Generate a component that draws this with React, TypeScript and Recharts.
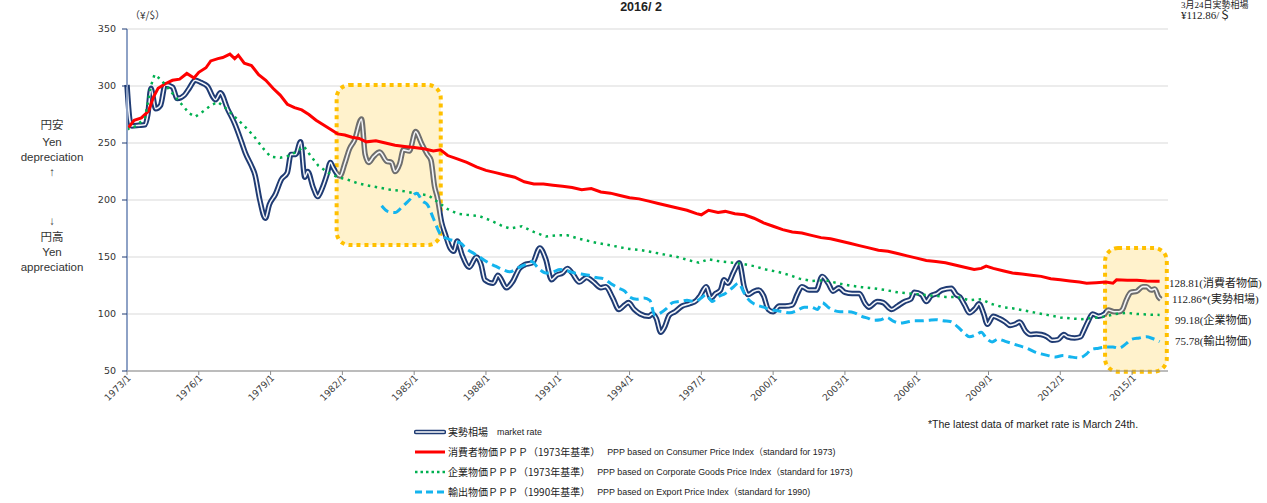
import React from "react";
import { LineChart, Line, XAxis, YAxis, CartesianGrid, ReferenceArea } from "recharts";

// x ticks (years, shown as "YYYY/1") and y ticks (yen per dollar)
const yearTicks = [1973, 1976, 1979, 1982, 1985, 1988, 1991, 1994, 1997, 2000, 2003, 2006, 2009, 2012, 2015];
const yenTicks = [50, 100, 150, 200, 250, 300, 350];

// 実勢相場 market rate
const marketT = [
  1973.0, 1973.12, 1973.2, 1973.5, 1973.75, 1973.87, 1974.0, 1974.2, 1974.4, 1974.6, 1974.9,
  1975.1, 1975.4, 1975.6, 1975.85, 1976.1, 1976.35, 1976.7, 1976.9, 1977.2, 1977.5, 1977.8,
  1977.95, 1978.2, 1978.35, 1978.55, 1978.78, 1978.95, 1979.2, 1979.45, 1979.7, 1979.85,
  1980.05, 1980.25, 1980.43, 1980.55, 1980.78, 1980.97, 1981.15, 1981.35, 1981.5, 1981.6,
  1981.9, 1982.1, 1982.3, 1982.5, 1982.8, 1982.95, 1983.1, 1983.3, 1983.56, 1983.85, 1984.05,
  1984.2, 1984.4, 1984.55, 1984.8, 1985.06, 1985.3, 1985.55, 1985.7, 1985.85, 1985.97, 1986.15,
  1986.3, 1986.5, 1986.65, 1986.8, 1987.0, 1987.3, 1987.6, 1987.8, 1987.95, 1988.3, 1988.5,
  1988.86, 1989.1, 1989.4, 1989.6, 1989.95, 1990.25, 1990.5, 1990.74, 1990.95, 1991.2, 1991.4,
  1991.6, 1991.9, 1992.2, 1992.5, 1992.8, 1993.0, 1993.3, 1993.55, 1993.8, 1993.95, 1994.2,
  1994.45, 1994.8, 1994.95, 1995.12, 1995.3, 1995.45, 1995.66, 1995.9, 1996.2, 1996.5, 1996.8,
  1996.95, 1997.2, 1997.4, 1997.6, 1997.8, 1997.95, 1998.1, 1998.35, 1998.58, 1998.8, 1998.95,
  1999.2, 1999.4, 1999.6, 1999.8, 2000.0, 2000.25, 2000.5, 2000.8, 2001.0, 2001.2, 2001.5,
  2001.8, 2002.05, 2002.3, 2002.5, 2002.75, 2003.0, 2003.3, 2003.6, 2003.85, 2004.0, 2004.35,
  2004.6, 2004.95, 2005.2, 2005.5, 2005.75, 2005.9, 2006.2, 2006.4, 2006.6, 2006.85, 2007.05,
  2007.45, 2007.65, 2007.8, 2008.0, 2008.2, 2008.45, 2008.6, 2008.8, 2008.95, 2009.2, 2009.45,
  2009.7, 2009.9, 2010.1, 2010.3, 2010.55, 2010.75, 2011.0, 2011.2, 2011.45, 2011.65, 2011.9,
  2012.15, 2012.3, 2012.6, 2012.85, 2012.95, 2013.15, 2013.35, 2013.6, 2013.85, 2014.0, 2014.25,
  2014.45, 2014.6, 2014.75, 2014.95, 2015.2, 2015.45, 2015.6, 2015.8, 2015.95, 2016.1, 2016.2,
];
const marketV = [
  301, 270, 265, 265.5, 266, 275, 298, 280, 283, 301, 299,
  289, 292, 298, 305, 303, 300, 288, 294, 280, 267, 250,
  241, 230, 222, 200, 184, 196, 205, 218, 224, 240,
  240, 251, 220, 225, 211, 203, 210, 222, 233, 229,
  221, 232, 245, 252, 271, 240, 233, 238, 242, 234, 233,
  225, 232, 244, 243, 260, 250, 240, 235, 212, 202, 180,
  170, 158, 155, 164, 152, 141, 150, 143, 130, 127, 134,
  123, 128, 140, 143, 145, 158, 148, 130, 134, 136, 140,
  136, 128, 132, 128, 123, 124, 114, 104, 108, 110, 104,
  100, 98, 100, 96, 84, 88, 99, 102, 107, 109, 112,
  116, 124, 114, 118, 121, 130, 127, 137, 145, 123, 117,
  120, 121, 116, 104, 102, 107, 107, 108, 117, 124, 121,
  121, 133, 127, 120, 123, 119, 118, 118, 109, 106, 111,
  110, 104, 107, 111, 113, 119, 117, 111, 116, 118, 121,
  122.5, 117, 115, 108, 101, 105, 109, 100, 91, 98, 96,
  93, 90, 91, 93, 85, 82, 82.5, 82, 80, 77, 77.5,
  82, 80, 79, 80, 84, 93, 100, 98, 100, 103.5, 102,
  102, 104, 112, 119, 120, 124, 124, 121, 122, 115, 112.86,
];

// 消費者物価PPP (1973 base)
const cpiT = [
  1973.0, 1973.3, 1973.6, 1973.9, 1974.1, 1974.3, 1974.6, 1974.9, 1975.2, 1975.5, 1975.8,
  1976.0, 1976.3, 1976.5, 1976.8, 1977.0, 1977.3, 1977.5, 1977.65, 1977.9, 1978.2, 1978.5,
  1978.8, 1979.1, 1979.4, 1979.7, 1980.0, 1980.3, 1980.6, 1980.9, 1981.2, 1981.5, 1981.8,
  1982.1, 1982.4, 1982.7, 1983.0, 1983.4, 1983.8, 1984.2, 1984.6, 1985.0, 1985.4, 1985.8,
  1986.1, 1986.4, 1986.8, 1987.2, 1987.6, 1988.0, 1988.4, 1988.8, 1989.2, 1989.6, 1990.0,
  1990.4, 1990.8, 1991.2, 1991.6, 1992.0, 1992.4, 1992.8, 1993.2, 1993.6, 1994.0, 1994.4,
  1994.8, 1995.2, 1995.6, 1996.0, 1996.4, 1996.8, 1997.0, 1997.3, 1997.7, 1998.0, 1998.4,
  1998.8, 1999.2, 1999.6, 2000.0, 2000.4, 2000.8, 2001.2, 2001.6, 2002.0, 2002.4, 2002.8,
  2003.2, 2003.6, 2004.0, 2004.4, 2004.8, 2005.2, 2005.6, 2006.0, 2006.4, 2006.8, 2007.2,
  2007.6, 2008.0, 2008.4, 2008.7, 2008.9, 2009.2, 2009.6, 2010.0, 2010.4, 2010.8, 2011.2,
  2011.6, 2012.0, 2012.4, 2012.8, 2013.1, 2013.5, 2013.9, 2014.2, 2014.35, 2014.8, 2015.2,
  2015.6, 2016.0, 2016.15,
];
const cpiV = [
  262, 270, 272, 278, 290, 298, 302, 305, 306, 311, 307,
  312, 316, 322, 324, 325, 328, 324, 327, 320, 318, 310,
  305, 298, 292, 284, 281, 279, 275, 270, 266, 262, 258,
  257, 255, 254, 251, 252, 250, 248, 247, 246, 245, 243,
  244, 239, 236, 233, 229, 226, 224, 222, 220, 216, 214,
  214, 213, 212, 211, 209, 210, 207, 206, 204, 202, 201,
  199, 197, 195, 193, 191, 188, 187, 191, 189, 190, 188,
  187, 184, 180, 177, 174, 172, 171, 169, 167, 166, 164,
  162, 160, 158, 156, 155, 153, 151, 149, 147, 146, 145,
  143, 141, 139, 140, 142, 140, 138, 136, 135, 134, 133,
  131, 130, 129, 128, 127, 127.5, 128, 127, 130, 129.5, 129.5,
  129, 128.8, 128.81,
];

// 企業物価PPP (1973 base)
const cgpiT = [
  1973.0, 1973.4, 1973.75, 1974.0, 1974.15, 1974.4, 1974.8, 1975.2, 1975.6, 1975.85, 1976.2,
  1976.5, 1976.8, 1977.1, 1977.5, 1977.9, 1978.3, 1978.7, 1979.0, 1979.4, 1979.8, 1980.2,
  1980.4, 1980.7, 1981.0, 1981.4, 1981.8, 1982.2, 1982.6, 1983.0, 1983.5, 1984.0, 1984.5,
  1985.0, 1985.6, 1986.0, 1986.4, 1986.8, 1987.2, 1987.7, 1988.2, 1988.7, 1989.0, 1989.5,
  1990.0, 1990.5, 1991.0, 1991.4, 1991.9, 1992.5, 1993.0, 1993.5, 1994.0, 1994.5, 1995.0,
  1995.5, 1996.0, 1996.5, 1996.9, 1997.3, 1997.8, 1998.3, 1998.7, 1999.2, 1999.7, 2000.2,
  2000.7, 2001.1, 2001.6, 2002.2, 2002.7, 2003.2, 2003.7, 2004.2, 2004.7, 2005.2, 2005.7,
  2006.2, 2006.7, 2007.2, 2007.7, 2008.2, 2008.7, 2009.1, 2009.6, 2010.0, 2010.5, 2011.0,
  2011.5, 2012.0, 2012.5, 2012.9, 2013.4, 2013.8, 2014.3, 2014.8, 2015.2, 2015.7, 2016.15,
];
const cgpiV = [
  262, 265, 272, 300, 310, 306, 296, 286, 276, 273, 278,
  283, 286, 281, 273, 265, 256, 245, 238, 237, 239, 244,
  247, 238, 230, 224, 220, 218, 215, 213, 211, 209, 208,
  206, 204, 198, 192, 188, 187, 186, 182, 177, 175, 177,
  172, 168, 169, 169, 166, 163, 161, 159, 157, 156, 154,
  152, 150, 147, 145, 148, 146, 145, 144, 142, 139, 137,
  134, 131, 129, 129.5, 127, 125, 123.5, 122.5, 121, 119, 118,
  117, 116, 115, 115, 112, 113, 109, 106, 105, 103, 101,
  99, 97, 96, 95.5, 96.5, 97.5, 100, 101, 100, 99.5, 99.18,
];

// 輸出物価PPP (1990 base)
const exportT = [
  1983.64, 1983.9, 1984.2, 1984.5, 1984.8, 1985.1, 1985.35, 1985.55, 1985.8, 1986.1, 1986.4,
  1986.7, 1986.95, 1987.2, 1987.5, 1987.8, 1988.1, 1988.4, 1988.7, 1989.0, 1989.3, 1989.6,
  1989.9, 1990.2, 1990.5, 1990.8, 1991.1, 1991.4, 1991.7, 1992.0, 1992.3, 1992.6, 1992.9,
  1993.2, 1993.5, 1993.8, 1994.0, 1994.3, 1994.6, 1994.85, 1995.05, 1995.3, 1995.55, 1995.8,
  1996.1, 1996.4, 1996.7, 1997.0, 1997.2, 1997.45, 1997.7, 1998.0, 1998.3, 1998.55, 1998.8,
  1999.0, 1999.3, 1999.6, 1999.85, 2000.1, 2000.4, 2000.7, 2001.0, 2001.3, 2001.6, 2001.85,
  2002.05, 2002.3, 2002.55, 2002.8, 2003.1, 2003.4, 2003.7, 2004.0, 2004.2, 2004.5, 2004.75,
  2005.0, 2005.3, 2005.6, 2005.9, 2006.2, 2006.5, 2006.8, 2007.1, 2007.4, 2007.7, 2008.0,
  2008.2, 2008.5, 2008.7, 2008.9, 2009.15, 2009.4, 2009.7, 2010.0, 2010.3, 2010.6, 2010.9,
  2011.2, 2011.5, 2011.8, 2012.1, 2012.4, 2012.8, 2013.1, 2013.3, 2013.6, 2013.9, 2014.2,
  2014.45, 2014.75, 2015.0, 2015.3, 2015.6, 2015.85, 2016.15,
];
const exportV = [
  195, 190, 189, 194, 200, 206, 199, 196, 184, 170, 166,
  164, 162, 157, 153, 149, 145, 142, 139, 137, 140, 143,
  146, 140, 136, 137, 139, 138, 136, 135, 134, 132, 131,
  127, 123, 120, 115, 113, 114, 112, 99, 101, 105, 110,
  111, 112, 111, 114, 117, 111, 115, 118, 123, 127, 118,
  112, 108, 106, 104, 103, 102, 101, 103, 106, 106, 104,
  110, 106, 103, 102, 102, 101, 98, 96, 94.5, 95, 97,
  94, 92, 93, 94, 94, 94.5, 95, 94, 93.5, 89, 83,
  80, 82, 84, 79, 75.5, 78, 76, 74, 72, 70, 67,
  65, 63.5, 62.3, 63.5, 62.5, 61.5, 65, 69, 70, 71, 71,
  70, 74, 78, 79, 80, 78.5, 75.78,
];

// shaded periods
const highlights = [
  { x1: 1981.76, x2: 1986.11, y1: 160.5, y2: 300.9 },
  { x1: 2013.87, x2: 2016.45, y1: 49.4, y2: 157.9 },
];

const rows = (ts: number[], vs: number[]) => ts.map((t, i) => ({ t, v: vs[i] }));
const marketData = rows(marketT, marketV);
const cpiData = rows(cpiT, cpiV);
const cgpiData = rows(cgpiT, cgpiV);
const exportData = rows(exportT, exportV);

const NAVY = "#1F3B73";
const GRAY = "#6E6E6E";
const RED = "#FF0000";
const GREEN = "#00B050";
const BLUE = "#14B4EE";

const t0 = marketT[0];
const t1 = marketT[marketT.length - 1];
const frac = (t: number) => Math.min(1, Math.max(0, (t - t0) / (t1 - t0)));

const YearTick = (props: any) => {
  const { x, y, payload } = props;
  const ax = x + 2;
  const ay = y - 1;
  return (
    <text
      x={ax}
      y={ay}
      transform={`rotate(-45 ${ax} ${ay})`}
      textAnchor="end"
      dominantBaseline="central"
      fontSize={9.3}
      fontFamily="DejaVu Sans"
      fill="#404040"
    >
      {`${payload.value}/1`}
    </text>
  );
};

const boxShape = (p: any) => (
  <rect
    x={p.x}
    y={p.y}
    width={p.width}
    height={p.height}
    rx={13}
    ry={13}
    fill="#FFF2CC"
    stroke="#FFC000"
    strokeWidth={4}
    strokeDasharray="4 4"
  />
);

const Txt = ({ left, top, children, style }: any) => (
  <div
    style={{
      position: "absolute",
      left,
      top,
      transform: "translateY(-50%)",
      whiteSpace: "nowrap",
      lineHeight: 1,
      ...style,
    }}
  >
    {children}
  </div>
);

const Center = ({ x, top, children, style }: any) => (
  <div
    style={{
      position: "absolute",
      left: x - 60,
      width: 120,
      top,
      transform: "translateY(-50%)",
      textAlign: "center",
      whiteSpace: "nowrap",
      lineHeight: 1,
      ...style,
    }}
  >
    {children}
  </div>
);

const sideFont = { fontFamily: "Liberation Sans, Noto Sans CJK JP, sans-serif", fontSize: 11.5, color: "#333" };
const endFont = { fontFamily: "Liberation Serif, Noto Sans CJK JP, serif", fontSize: 11, color: "#222" };
const jpLegend = { fontFamily: "Noto Sans CJK JP, sans-serif", fontSize: 10, color: "#222" };
const enLegend = { fontFamily: "Liberation Sans, Noto Sans CJK JP, sans-serif", fontSize: 8.9, color: "#222" };

const LegendSymbol = ({ kind }: { kind: string }) => (
  <svg width={32} height={8} style={{ display: "block" }}>
    {kind === "market" && (
      <>
        <line x1={2} y1={4} x2={30} y2={4} stroke={NAVY} strokeWidth={4.5} strokeLinecap="round" />
        <line x1={2} y1={4} x2={30} y2={4} stroke="#fff" strokeWidth={1.5} strokeLinecap="round" />
      </>
    )}
    {kind === "cpi" && <line x1={1} y1={4} x2={31} y2={4} stroke={RED} strokeWidth={3} />}
    {kind === "cgpi" && (
      <line x1={1} y1={4} x2={31} y2={4} stroke={GREEN} strokeWidth={2.5} strokeDasharray="2.5 3" />
    )}
    {kind === "export" && (
      <line x1={1} y1={4} x2={31} y2={4} stroke={BLUE} strokeWidth={3} strokeDasharray="7 4" />
    )}
  </svg>
);

const legendRows = [
  { kind: "market", jp: "実勢相場", en: "market rate", y: 432 },
  { kind: "cpi", jp: "消費者物価ＰＰＰ（1973年基準）", en: "PPP based on Consumer Price Index（standard for 1973)", y: 452 },
  { kind: "cgpi", jp: "企業物価ＰＰＰ（1973年基準）", en: "PPP based on Corporate Goods Price Index（standard for 1973)", y: 472 },
  { kind: "export", jp: "輸出物価ＰＰＰ（1990年基準）", en: "PPP based on Export Price Index（standard for 1990)", y: 492 },
];

export default function App() {
  return (
    <div
      style={{
        position: "absolute",
        left: 0,
        top: 0,
        width: 1267,
        height: 503,
        overflow: "hidden",
        background: "#fff",
        fontFamily: "Liberation Sans, sans-serif",
      }}
    >
      <LineChart width={1267} height={503} data={marketData} margin={{ top: 29, right: 99, bottom: 92, left: 87 }}>
        <defs>
          <linearGradient id="mktStroke" x1="0" y1="0" x2="1" y2="0">
            <stop offset={0} stopColor={NAVY} />
            <stop offset={frac(highlights[0].x1)} stopColor={NAVY} />
            <stop offset={frac(highlights[0].x1)} stopColor={GRAY} />
            <stop offset={frac(highlights[0].x2)} stopColor={GRAY} />
            <stop offset={frac(highlights[0].x2)} stopColor={NAVY} />
            <stop offset={frac(highlights[1].x1)} stopColor={NAVY} />
            <stop offset={frac(highlights[1].x1)} stopColor={GRAY} />
            <stop offset={1} stopColor={GRAY} />
          </linearGradient>
        </defs>
        <CartesianGrid vertical={false} stroke="#D9D9D9" />
        <XAxis
          type="number"
          dataKey="t"
          domain={[1973, 2016.5]}
          ticks={yearTicks}
          height={40}
          tick={<YearTick />}
          tickSize={4}
          axisLine={{ stroke: "#8C8C8C" }}
          tickLine={{ stroke: "#8C8C8C" }}
          interval={0}
        />
        <YAxis
          type="number"
          domain={[50, 350]}
          ticks={yenTicks}
          width={40}
          tickSize={5}
          tickMargin={6}
          axisLine={{ stroke: "#8EA2C6", strokeWidth: 2 }}
          tickLine={{ stroke: NAVY }}
          tick={{ fontSize: 9.5, fill: "#333", fontFamily: "DejaVu Sans" }}
          interval={0}
        />
        {highlights.map((b, i) => (
          <ReferenceArea key={i} x1={b.x1} x2={b.x2} y1={b.y1} y2={b.y2} ifOverflow="visible" shape={boxShape} />
        ))}
        <Line
          data={marketData}
          dataKey="v"
          type="monotone"
          stroke="url(#mktStroke)"
          strokeWidth={5.5}
          dot={false}
          activeDot={false}
          isAnimationActive={false}
        />
        <Line
          data={marketData}
          dataKey="v"
          type="monotone"
          stroke="#F4F6FA"
          strokeWidth={1.6}
          dot={false}
          activeDot={false}
          isAnimationActive={false}
        />
        <Line
          data={cpiData}
          dataKey="v"
          type="linear"
          stroke={RED}
          strokeWidth={3}
          dot={false}
          activeDot={false}
          isAnimationActive={false}
        />
        <Line
          data={cgpiData}
          dataKey="v"
          type="linear"
          stroke={GREEN}
          strokeWidth={2.5}
          strokeDasharray="2.5 4.5"
          dot={false}
          activeDot={false}
          isAnimationActive={false}
        />
        <Line
          data={exportData}
          dataKey="v"
          type="monotone"
          stroke={BLUE}
          strokeWidth={3}
          strokeDasharray="9 5"
          dot={false}
          activeDot={false}
          isAnimationActive={false}
        />
      </LineChart>

      {/* title, unit and corner notes */}
      <Center x={641} top={7} style={{ fontWeight: "bold", fontSize: 12.5, color: "#222" }}>
        2016/ 2
      </Center>
      <Txt left={130} top={15} style={{ fontSize: 10, color: "#333", fontFamily: "Noto Sans CJK JP, sans-serif" }}>
        （¥/$）
      </Txt>
      <Txt left={1181} top={5} style={{ ...endFont, fontSize: 9 }}>
        3月24日実勢相場
      </Txt>
      <Txt left={1181} top={15} style={endFont}>
        ¥112.86/＄
      </Txt>

      {/* left side direction notes */}
      <Center x={52} top={126} style={sideFont}>円安</Center>
      <Center x={52} top={143} style={sideFont}>Yen</Center>
      <Center x={52} top={158} style={sideFont}>depreciation</Center>
      <Center x={52} top={173} style={sideFont}>↑</Center>
      <Center x={52} top={222} style={sideFont}>↓</Center>
      <Center x={52} top={238} style={sideFont}>円高</Center>
      <Center x={52} top={253} style={sideFont}>Yen</Center>
      <Center x={52} top={268} style={sideFont}>appreciation</Center>

      {/* latest values at the right end */}
      <Txt left={1169} top={283} style={endFont}>128.81(消費者物価)</Txt>
      <Txt left={1172} top={299} style={endFont}>112.86*(実勢相場)</Txt>
      <Txt left={1175} top={320} style={endFont}>99.18(企業物価)</Txt>
      <Txt left={1175} top={341} style={endFont}>75.78(輸出物価)</Txt>

      <Txt left={928} top={424} style={{ fontSize: 10.5, color: "#222", fontFamily: "Liberation Sans, sans-serif" }}>
        *The latest data of market rate is March 24th.
      </Txt>

      {/* legend */}
      {legendRows.map((r) => (
        <div
          key={r.kind}
          style={{
            position: "absolute",
            left: 414,
            top: r.y,
            transform: "translateY(-50%)",
            display: "flex",
            alignItems: "center",
            whiteSpace: "nowrap",
            lineHeight: 1,
          }}
        >
          <LegendSymbol kind={r.kind} />
          <span style={{ ...jpLegend, marginLeft: 2 }}>{r.jp}</span>
          <span style={{ ...enLegend, marginLeft: r.kind === "market" ? 9 : 7 }}>{r.en}</span>
        </div>
      ))}
    </div>
  );
}
